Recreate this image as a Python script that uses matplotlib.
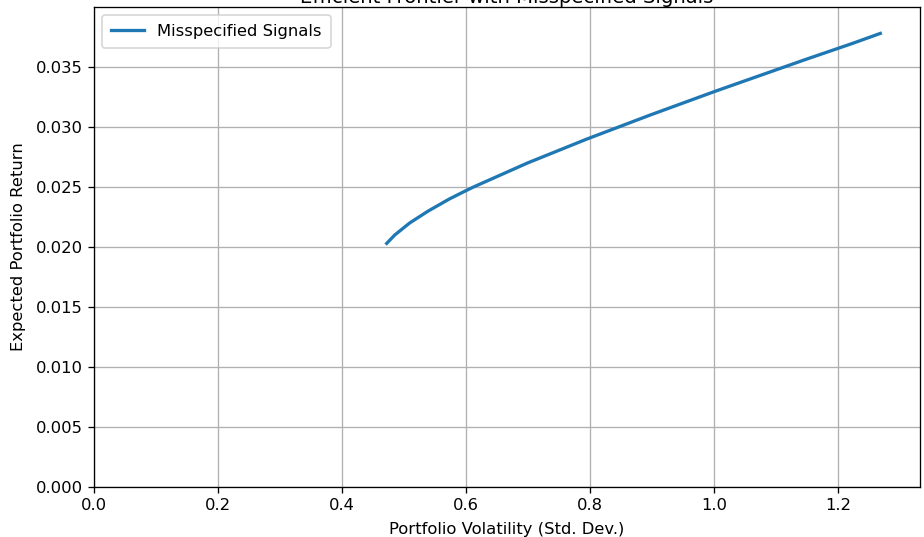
import numpy as np
import matplotlib.pyplot as plt

# frontier
volatility = [0.472, 0.485, 0.509, 0.539, 0.573, 0.600, 0.612, 0.699, 0.795,
              0.897, 1.003, 1.113, 1.146, 1.225, 1.268]
exp_return = [0.0203, 0.0210, 0.0220, 0.0230, 0.0240, 0.0247, 0.0250, 0.0270, 0.0290,
              0.0310, 0.0330, 0.0350, 0.0356, 0.0370, 0.0378]

dpi = 118
fig = plt.figure(figsize=(924/dpi, 537/dpi), dpi=dpi)
ax = fig.add_axes([94/924, 50/537, 826/924, 480/537])

ax.plot(volatility, exp_return, linewidth=2, label='Misspecified Signals')
ax.set_xlim(0, 1.332)
ax.set_ylim(0, 0.04)
ax.set_yticks(np.arange(0, 0.0351, 0.005))
ax.set_title('Efficient Frontier with Misspecified Signals', pad=-1)
ax.set_xlabel('Portfolio Volatility (Std. Dev.)', labelpad=5)
ax.set_ylabel('Expected Portfolio Return', labelpad=6)
ax.legend(loc='upper left', borderpad=0.55)
ax.grid(True)

fig.savefig('out.png', dpi=dpi)
